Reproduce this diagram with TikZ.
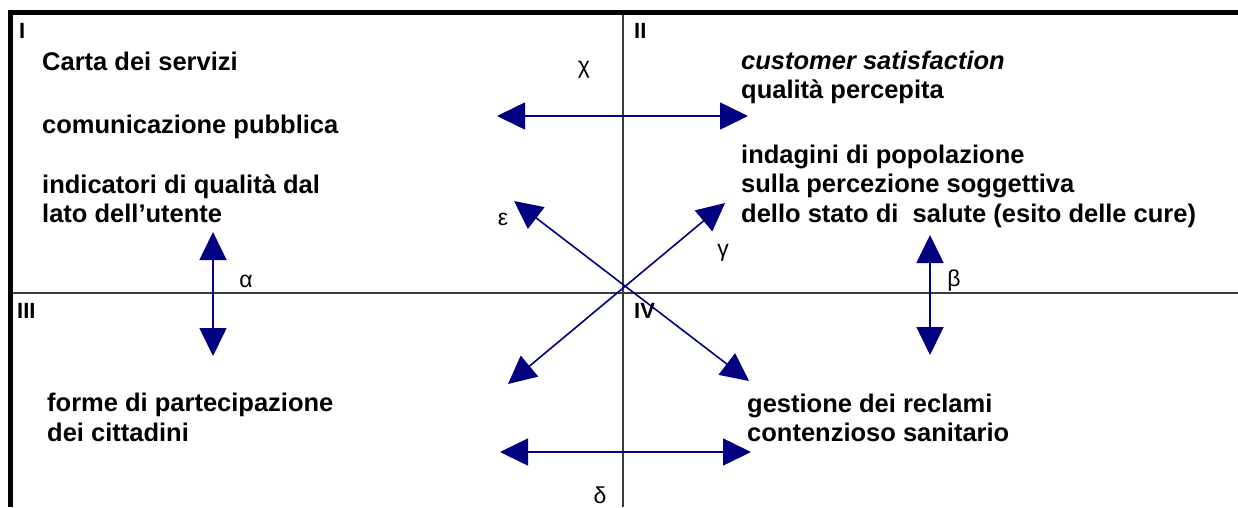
\documentclass[tikz,border=0pt]{standalone}
\usepackage{fontspec}
\setmainfont{Liberation Sans}
\usetikzlibrary{arrows.meta}
\definecolor{arrowblue}{RGB}{0,0,128}
\definecolor{divgray}{RGB}{60,60,60}
\begin{document}
\begin{tikzpicture}[x=1pt,y=-1pt,
  txt/.style={anchor=base west,inner sep=0pt,font=\fontsize{25.5}{30}\selectfont\bfseries},
  roman/.style={anchor=base west,inner sep=0pt,font=\fontsize{22}{26}\selectfont\bfseries},
  greek/.style={inner sep=0pt,font=\fontsize{23}{27}\selectfont},
  dbl/.style={arrowblue,line width=1.6pt,{Triangle[length=28pt,width=27pt]}-{Triangle[length=28pt,width=27pt]}},
  border/.style={black,line width=4.5pt},
  divider/.style={divgray,line width=2pt}]
\useasboundingbox (0,0) rectangle (1238,507);
% frame and quadrant lines
\coordinate (tl) at (10.5,12.5);
\coordinate (tr) at (1238,12.5);
\coordinate (bl) at (10.5,507);
\coordinate (vt) at (623,12.5);
\coordinate (vb) at (623,507);
\coordinate (hl) at (10.5,293);
\coordinate (hr) at (1238,293);
\draw[divider] (vt) -- (vb);
\draw[divider] (hl) -- (hr);
\draw[border] (tr) -- (tl) -- (bl);
% quadrant numbers
\node[roman] (q1) at (19,38) {I};
\node[roman] (q2) at (634,38) {II};
\node[roman] (q3) at (17,318) {III};
\node[roman] (q4) at (634,318) {IV};
% quadrant I
\node[txt] (t1a) at (42,70) {Carta dei servizi};
\node[txt] (t1b) at (42,133) {comunicazione pubblica};
\node[txt] (t1c) at (42,193) {indicatori di qualità dal};
\node[txt] (t1d) at (42,222) {lato dell’utente};
% quadrant II
\node[txt] (t2a) at (741,69) {\itshape customer satisfaction};
\node[txt] (t2b) at (741,98) {qualità percepita};
\node[txt] (t2c) at (741,163) {indagini di popolazione};
\node[txt] (t2d) at (741,192) {sulla percezione soggettiva};
\node[txt] (t2e) at (741,222) {dello stato di~ salute (esito delle cure)};
% quadrant III
\node[txt] (t3a) at (47,411) {forme di partecipazione};
\node[txt] (t3b) at (47,441) {dei cittadini};
% quadrant IV
\node[txt] (t4a) at (747,412) {gestione dei reclami};
\node[txt] (t4b) at (747,441) {contenzioso sanitario};
% arrows
\coordinate (chiL) at (497,116);
\coordinate (chiR) at (748,116);
\draw[dbl] (chiL) -- (chiR);
\coordinate (delL) at (500,452);
\coordinate (delR) at (751,452);
\draw[dbl] (delL) -- (delR);
\coordinate (alT) at (213,232);
\coordinate (alB) at (213,356);
\draw[dbl] (alT) -- (alB);
\coordinate (beT) at (930,235);
\coordinate (beB) at (930,355);
\draw[dbl] (beT) -- (beB);
\coordinate (gaLL) at (508,384);
\coordinate (gaUR) at (725,203);
\draw[dbl] (gaLL) -- (gaUR);
\coordinate (epUL) at (514,201);
\coordinate (epLR) at (749,381);
\draw[dbl] (epUL) -- (epLR);
% greek labels
\node[greek] (lchi) at (584,70) {χ};
\node[greek] (ldel) at (600,495) {δ};
\node[greek] (lal) at (246,281) {α};
\node[greek] (lbe) at (954,281) {β};
\node[greek] (lga) at (723,253) {γ};
\node[greek] (lep) at (503,219) {ε};
\end{tikzpicture}
\end{document}
